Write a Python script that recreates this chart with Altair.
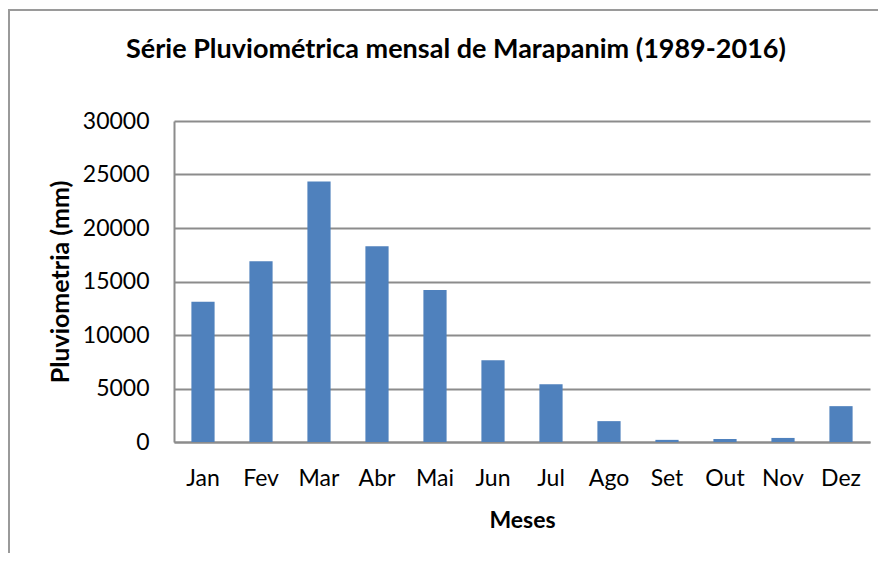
import altair as alt
import pandas as pd

meses = ["Jan", "Fev", "Mar", "Abr", "Mai", "Jun", "Jul", "Ago", "Set", "Out", "Nov", "Dez"]
pluviometria = [13100, 16900, 24350, 18300, 14200, 7650, 5400, 1950, 200, 280, 380, 3350]
titulo = "Série Pluviométrica mensal de Marapanim (1989-2016)"

df = pd.DataFrame({"Meses": meses, "Pluviometria": pluviometria})

FONT = "Lato"
GRID = "#8c8c8c"

bars = alt.Chart(df).mark_bar(color="#4F81BD").encode(
    x=alt.X("Meses:N", sort=meses,
            scale=alt.Scale(paddingInner=0.6, paddingOuter=0.3),
            axis=alt.Axis(title="Meses", labelAngle=0, ticks=False,
                          labelPadding=25, titlePadding=19,
                          labelFont=FONT, labelFontSize=23, labelColor="#000",
                          titleFont=FONT, titleFontSize=23, titleFontWeight="bold",
                          titleColor="#000",
                          domainColor=GRID, domainWidth=2)),
    y=alt.Y("Pluviometria:Q",
            scale=alt.Scale(domain=[0, 30000], nice=False),
            axis=alt.Axis(title="Pluviometria (mm)", values=[0, 5000, 10000, 15000, 20000, 25000, 30000],
                          format="d", ticks=False, labelPadding=25, titlePadding=9,
                          labelFont=FONT, labelFontSize=23, labelColor="#000",
                          titleFont=FONT, titleFontSize=25, titleFontWeight="bold",
                          titleColor="#000",
                          grid=True, gridColor=GRID, gridWidth=2,
                          domainColor=GRID, domainWidth=2)),
)

title_text = alt.Chart(pd.DataFrame({"t": [titulo]})).mark_text(
    font=FONT, fontSize=27, fontWeight="bold", color="#000",
    align="center", baseline="alphabetic").encode(
    text="t:N", x=alt.value(282), y=alt.value(-63))

frame_left = alt.Chart(df).mark_rule(color="#9a9a9a", strokeWidth=2).encode(
    x=alt.value(-165), y=alt.value(-112), y2=alt.value(440))
frame_top = alt.Chart(df).mark_rule(color="#9a9a9a", strokeWidth=2).encode(
    x=alt.value(-165), x2=alt.value(710), y=alt.value(-111))

chart = alt.layer(frame_left, frame_top, title_text, bars).properties(
    width=696, height=321,
    autosize=alt.AutoSizeParams(type="none"),
    padding={"left": 166, "top": 113, "right": 8, "bottom": 111},
).configure_view(stroke=None)

chart.save("out.html", embed_options={"renderer": "svg", "actions": False})
